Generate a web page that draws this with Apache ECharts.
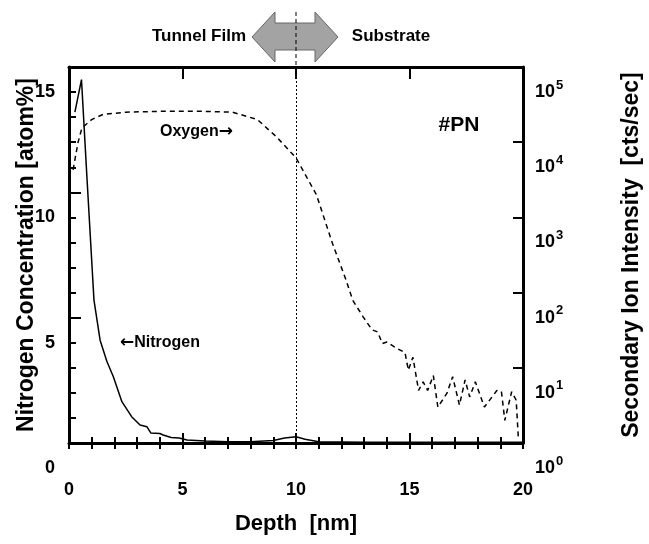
<!DOCTYPE html>
<html>
<head>
<meta charset="utf-8">
<title>SIMS depth profile #PN</title>
<script src="https://cdn.jsdelivr.net/npm/echarts@6/dist/echarts.min.js"></script>
<style>
  html, body { margin: 0; padding: 0; background: #fff; }
  #chart { width: 649px; height: 544px; }
</style>
</head>
<body>
<div id="chart"></div>
<script>
// depth [nm] vs nitrogen concentration [atom%] (solid line, left axis)
var nitrogenDepth = [0.26, 0.55, 0.79, 1.1, 1.37, 1.67, 1.95, 2.33, 2.76, 3.13, 3.43, 3.6, 4.0, 4.15, 4.5, 4.85, 5.2, 6.0, 7.0, 8.0, 9.0, 9.5, 10.0, 10.4, 11.0, 13.0, 15.0, 17.0, 19.0, 20.0];
var nitrogenConc = [13.2, 14.5, 10.6, 5.7, 4.1, 3.25, 2.65, 1.65, 1.05, 0.72, 0.65, 0.4, 0.38, 0.32, 0.22, 0.2, 0.12, 0.08, 0.05, 0.05, 0.1, 0.2, 0.25, 0.15, 0.05, 0.03, 0.03, 0.03, 0.03, 0.03];

// depth [nm] vs oxygen secondary ion intensity [cts/sec] (dashed line, right log axis)
var oxygenDepth = [0.18, 0.4, 0.57, 1.0, 1.5, 2.5, 4.0, 6.0, 7.2, 8.3, 9.15, 10.0, 10.9, 11.6, 12.2, 12.5, 12.95, 13.35, 13.6, 13.8, 14.0, 14.45, 14.8, 14.95, 15.15, 15.4, 15.6, 15.8, 16.05, 16.25, 16.65, 16.9, 17.2, 17.45, 17.65, 17.9, 18.3, 18.85, 19.05, 19.2, 19.5, 19.7, 19.8];
var oxygenCounts = [4300, 10000, 15500, 20000, 23400, 25100, 25700, 25700, 25100, 20000, 11700, 6200, 2000, 457, 148, 79, 48, 32, 30, 21, 22, 18, 16, 9.3, 13.8, 5.0, 6.5, 5.0, 7.9, 3.0, 4.6, 7.6, 3.2, 6.9, 4.1, 6.5, 3.0, 5.0, 4.8, 2.0, 4.8, 3.7, 1.1];

var xTicks = [0, 5, 10, 15, 20];
var leftTicks = [0, 5, 10, 15];
var rightTicks = [1, 10, 100, 1000, 10000, 100000];
var boundaryDepth = 10;

var font = '"Liberation Sans", Arial, Helvetica, sans-serif';
var arrowFont = '"DejaVu Sans", sans-serif';

function pairs(xs, ys) {
    var d = [];
    for (var i = 0; i < xs.length; i++) {
        d.push([xs[i], ys[i]]);
    }
    return d;
}

var frameLine = { show: true, onZero: false, lineStyle: { color: '#000', width: 3 } };
var tickLine = { color: '#000', width: 2 };

// extra axes that only draw the short 1-unit ticks
function minorX(pos) {
    return {
        type: 'value', min: xTicks[0], max: xTicks[xTicks.length - 1], interval: 1, position: pos,
        axisLine: { show: false },
        axisTick: { show: true, inside: true, length: 6, lineStyle: tickLine },
        axisLabel: { show: false },
        splitLine: { show: false }
    };
}

option = {
    animation: false,
    backgroundColor: '#fff',
    textStyle: { fontFamily: font },
    grid: { left: 69, right: 126, top: 67, bottom: 101, containLabel: false, outerBoundsMode: 'none' },
    xAxis: [
        {
            type: 'value',
            min: xTicks[0],
            max: xTicks[xTicks.length - 1],
            interval: 5,
            position: 'bottom',
            name: 'Depth  [nm]',
            nameLocation: 'middle',
            nameGap: 70,
            nameMoveOverlap: false,
            nameTextStyle: { color: '#000', fontSize: 22, fontWeight: 'bold', fontFamily: font },
            axisLine: frameLine,
            axisTick: { show: true, inside: true, length: 10, lineStyle: tickLine },
            splitLine: { show: false },
            axisLabel: { color: '#000', fontSize: 18, fontWeight: 'bold', margin: 38, fontFamily: font }
        },
        {
            type: 'value',
            min: xTicks[0],
            max: xTicks[xTicks.length - 1],
            interval: 5,
            position: 'top',
            axisLine: frameLine,
            axisTick: { show: true, inside: true, length: 12, lineStyle: tickLine },
            splitLine: { show: false },
            axisLabel: { show: false }
        },
        minorX('bottom'),
        minorX('top')
    ],
    yAxis: [
        {
            type: 'value',
            min: leftTicks[0],
            max: leftTicks[leftTicks.length - 1],
            interval: 5,
            position: 'left',
            name: 'Nitrogen Concentration [atom%]',
            nameLocation: 'middle',
            nameRotate: 90,
            nameGap: 31,
            nameMoveOverlap: false,
            nameTextStyle: { color: '#000', fontSize: 23, fontWeight: 'bold', fontFamily: font },
            axisLine: frameLine,
            axisTick: { show: true, inside: true, length: 12, lineStyle: tickLine },
            splitLine: { show: false },
            // labels sit one unit below their ticks in the original figure
            axisLabel: {
                color: '#000',
                margin: 14,
                padding: [50, 0, 0, 0],
                formatter: function (v) { return '{n|' + v + '}'; },
                rich: {
                    n: { fontSize: 18, fontWeight: 'bold', color: '#000', fontFamily: font }
                }
            }
        },
        {
            type: 'log',
            logBase: 10,
            min: rightTicks[0],
            max: rightTicks[rightTicks.length - 1],
            position: 'right',
            name: 'Secondary Ion Intensity  [cts/sec]',
            nameLocation: 'middle',
            nameRotate: 90,
            nameGap: 97,
            nameMoveOverlap: false,
            nameTextStyle: { color: '#000', fontSize: 23, fontWeight: 'bold', fontFamily: font },
            axisLine: frameLine,
            axisTick: { show: true, inside: true, length: 10, lineStyle: tickLine },
            splitLine: { show: false },
            axisLabel: {
                color: '#000',
                fontSize: 18,
                fontWeight: 'bold',
                margin: 12,
                padding: [50, 0, 0, 0],
                fontFamily: font,
                formatter: function (v) {
                    return '{n|10}{sup|' + Math.round(Math.log(v) / Math.LN10) + '}';
                },
                rich: {
                    n: { fontSize: 18, fontWeight: 'bold', color: '#000', fontFamily: font },
                    sup: { fontSize: 13, fontWeight: 'bold', color: '#000', padding: [0, 0, 14, 1], fontFamily: font }
                }
            }
        },
        {
            type: 'value',
            min: leftTicks[0],
            max: leftTicks[leftTicks.length - 1],
            interval: 1,
            position: 'left',
            axisLine: { show: false },
            axisTick: { show: true, inside: true, length: 7, lineStyle: tickLine },
            axisLabel: { show: false },
            splitLine: { show: false }
        }
    ],
    series: [
        {
            name: 'Nitrogen',
            type: 'line',
            xAxisIndex: 0,
            yAxisIndex: 0,
            data: pairs(nitrogenDepth, nitrogenConc),
            showSymbol: false,
            lineStyle: { color: '#000', width: 1.5 },
            markLine: {
                silent: true,
                symbol: 'none',
                label: { show: false },
                lineStyle: { color: '#000', width: 1, type: [2, 2] },
                data: [{ xAxis: boundaryDepth }]
            }
        },
        {
            name: 'Oxygen',
            type: 'line',
            xAxisIndex: 0,
            yAxisIndex: 1,
            data: pairs(oxygenDepth, oxygenCounts),
            showSymbol: false,
            lineStyle: { color: '#000', width: 1.5, type: [5, 4] }
        }
    ]
};

var myChart = echarts.init(document.getElementById('chart'));
myChart.setOption(option);

// annotations above the frame: boundary marker and the double arrow
var bx = myChart.convertToPixel({ xAxisIndex: 0 }, boundaryDepth);
var cy = 37;
var labelRich = {
    t: { font: 'bold 16px ' + font, fill: '#000' },
    a: { font: 'bold 17px ' + arrowFont, fill: '#000' }
};
myChart.setOption({
    graphic: [
        {
            type: 'polygon',
            shape: {
                points: [
                    [bx - 44, cy], [bx - 21, cy - 25], [bx - 21, cy - 14], [bx + 19, cy - 14],
                    [bx + 19, cy - 25], [bx + 42, cy], [bx + 19, cy + 25], [bx + 19, cy + 13],
                    [bx - 21, cy + 13], [bx - 21, cy + 25]
                ]
            },
            style: { fill: '#a3a3a3', stroke: '#666', lineWidth: 1 }
        },
        {
            type: 'line',
            shape: { x1: bx, y1: 12, x2: bx, y2: 66 },
            style: { stroke: '#000', lineWidth: 1, lineDash: [4, 3] }
        },
        {
            type: 'text',
            x: 199, y: 36,
            style: { text: 'Tunnel Film', fill: '#000', font: 'bold 17px ' + font, textAlign: 'center', textVerticalAlign: 'middle' }
        },
        {
            type: 'text',
            x: 391, y: 36,
            style: { text: 'Substrate', fill: '#000', font: 'bold 17px ' + font, textAlign: 'center', textVerticalAlign: 'middle' }
        },
        {
            type: 'text',
            x: 459, y: 125,
            style: { text: '#PN', fill: '#000', font: 'bold 21px ' + font, textAlign: 'center', textVerticalAlign: 'middle' }
        },
        {
            type: 'text',
            x: 160, y: 132,
            style: { text: '{t|Oxygen}{a|\u2192}', rich: labelRich, textAlign: 'left', textVerticalAlign: 'middle' }
        },
        {
            type: 'text',
            x: 120, y: 343,
            style: { text: '{a|\u2190}{t|Nitrogen}', rich: labelRich, textAlign: 'left', textVerticalAlign: 'middle' }
        }
    ]
});
</script>
</body>
</html>
